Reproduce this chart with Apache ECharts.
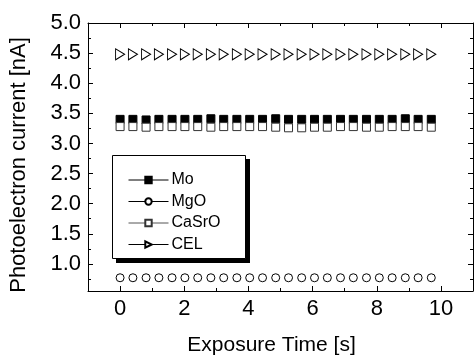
<!DOCTYPE html>
<html>
<head>
<meta charset="utf-8">
<script src="https://cdn.jsdelivr.net/npm/echarts@6/dist/echarts.min.js"></script>
<style>
  html, body { margin: 0; padding: 0; background: #fff; }
  #chart { width: 474px; height: 361px; }
</style>
</head>
<body>
<div id="chart"></div>
<script>
// exposure times [s]
const times = [0, 0.4, 0.81, 1.21, 1.62, 2.02, 2.42, 2.83, 3.23, 3.64, 4.04, 4.44, 4.85,
  5.25, 5.66, 6.06, 6.46, 6.87, 7.27, 7.68, 8.08, 8.48, 8.89, 9.29, 9.7];
// photoelectron current [nA]
const mo = [3.40, 3.40, 3.39, 3.40, 3.40, 3.40, 3.40, 3.41, 3.40, 3.40, 3.40, 3.40, 3.41,
  3.40, 3.40, 3.40, 3.40, 3.40, 3.40, 3.40, 3.40, 3.40, 3.41, 3.40, 3.40];
const mgo = [0.77, 0.77, 0.77, 0.77, 0.77, 0.77, 0.77, 0.77, 0.77, 0.77, 0.77, 0.77, 0.77,
  0.77, 0.77, 0.77, 0.77, 0.77, 0.77, 0.77, 0.77, 0.77, 0.77, 0.77, 0.77];
const casro = [3.28, 3.28, 3.27, 3.28, 3.28, 3.28, 3.28, 3.27, 3.28, 3.28, 3.28, 3.28, 3.27,
  3.26, 3.26, 3.27, 3.27, 3.28, 3.28, 3.27, 3.27, 3.28, 3.28, 3.28, 3.27];
const cel = [4.48, 4.48, 4.48, 4.48, 4.48, 4.48, 4.48, 4.48, 4.48, 4.48, 4.48, 4.48, 4.48,
  4.48, 4.48, 4.48, 4.48, 4.48, 4.48, 4.48, 4.48, 4.48, 4.48, 4.48, 4.48];

// ticks
const xMajor = [0, 2, 4, 6, 8, 10];
const xMinor = [1, 3, 5, 7, 9];
const yMajor = [1.0, 1.5, 2.0, 2.5, 3.0, 3.5, 4.0, 4.5, 5.0];
const yMinor = [0.75, 1.25, 1.75, 2.25, 2.75, 3.25, 3.75, 4.25, 4.75];

const FONT = "Liberation Sans, Arial, sans-serif";

const pairs = (ys) => times.map((t, i) => [t, ys[i]]);

// one axis helper: either the labelled main one or a ticks-only copy
const axis = (pos, min, max, ticks, len, extra) => Object.assign({
  type: "value",
  position: pos,
  min, max,
  splitLine: { show: false },
  axisLine: { show: false, onZero: false },
  axisTick: { show: true, inside: true, length: len, customValues: ticks, lineStyle: { color: "#000", width: 1 } },
  axisLabel: { show: false },
}, extra || {});

const blackLine = { show: true, onZero: false, lineStyle: { color: "#000", width: 1 } };

const chart = echarts.init(document.getElementById("chart"));

const option = {
  animation: false,
  grid: { left: 87, top: 23, right: 1, bottom: 66 },
  // legend frame with its drop shadow
  graphic: [
    { type: "rect", z: 3, silent: true, shape: { x: 116, y: 159, width: 134, height: 104 }, style: { fill: "#000" } },
    { type: "rect", z: 3, silent: true, shape: { x: 112.5, y: 155.5, width: 133, height: 103 }, style: { fill: "#fff", stroke: "#000", lineWidth: 1 } },
  ],
  xAxis: [
    axis("bottom", -1, 11, xMajor, 5, {
      axisLine: blackLine,
      axisLabel: {
        show: true, customValues: xMajor, margin: 7,
        color: "#000", fontSize: 22, fontFamily: FONT,
        formatter: (v) => String(Math.round(v)),
      },
      name: "Exposure Time [s]",
      nameLocation: "middle",
      nameGap: 44,
      nameTextStyle: { color: "#000", fontSize: 21, fontFamily: FONT, padding: [0, 18, 0, 0] },
    }),
    axis("bottom", -1, 11, xMinor, 3),
    axis("top", -1, 11, xMajor, 5, { axisLine: blackLine }),
    axis("top", -1, 11, xMinor, 3),
  ],
  yAxis: [
    axis("left", 0.55, 5.0, yMajor, 5, {
      axisLine: blackLine,
      axisLabel: {
        show: true, customValues: yMajor, margin: 7,
        color: "#000", fontSize: 22, fontFamily: FONT,
        formatter: (v) => v.toFixed(1),
      },
      name: "Photoelectron current [nA]",
      nameLocation: "middle",
      nameGap: 58,
      nameTextStyle: { color: "#000", fontSize: 22, fontFamily: FONT, padding: [0, 16, 0, 0] },
    }),
    axis("left", 0.55, 5.0, yMinor, 3),
    axis("right", 0.55, 5.0, yMajor, 5, { axisLine: blackLine }),
    axis("right", 0.55, 5.0, yMinor, 3),
  ],
  legend: {
    orient: "vertical",
    left: 128,
    top: 172,
    padding: 0,
    z: 4,
    itemGap: 5.5,
    itemWidth: 40,
    itemHeight: 8,
    lineStyle: { width: 1, opacity: 1 },
    textStyle: { color: "#000", fontSize: 16, lineHeight: 16, fontFamily: FONT, padding: [0, 0, 0, -2] },
    data: ["Mo", "MgO", "CaSrO", "CEL"],
  },
  series: [
    {
      name: "Mo", type: "line", data: pairs(mo),
      symbol: "rect", symbolSize: 8, showSymbol: true,
      lineStyle: { opacity: 0, color: "#000" },
      itemStyle: { color: "#000", borderColor: "#000", borderWidth: 1 },
    },
    {
      name: "MgO", type: "line", data: pairs(mgo),
      symbol: "circle", symbolSize: 8, showSymbol: true,
      lineStyle: { opacity: 0, color: "#000" },
      itemStyle: { color: "#fff", borderColor: "#000", borderWidth: 1 },
    },
    {
      name: "CaSrO", type: "line", data: pairs(casro),
      symbol: "rect", symbolSize: 8, showSymbol: true,
      lineStyle: { opacity: 0, color: "#555" },
      itemStyle: { color: "#fff", borderColor: "#333", borderWidth: 1 },
    },
    {
      name: "CEL", type: "line", data: pairs(cel),
      symbol: "triangle", symbolSize: [11, 9], symbolRotate: -90, showSymbol: true,
      lineStyle: { opacity: 0, color: "#000" },
      itemStyle: { color: "#fff", borderColor: "#000", borderWidth: 1 },
    },
  ],
};

chart.setOption(option);
</script>
</body>
</html>
